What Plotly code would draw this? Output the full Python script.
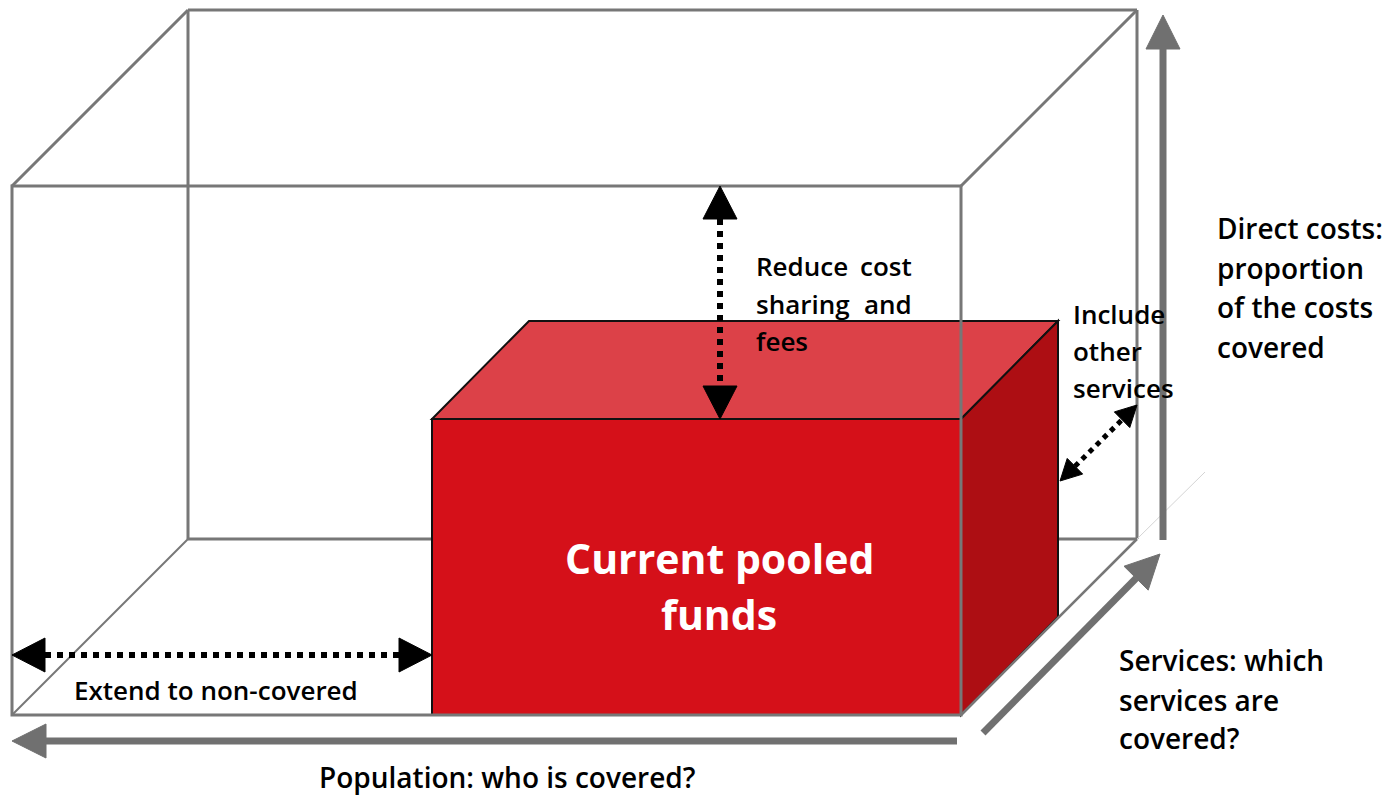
import plotly.graph_objects as go

# ---------------- text content ----------------
centre_label = ["Current pooled", "funds"]
reduce_label = [["Reduce", "cost"], ["sharing", "and"], ["fees"]]
include_label = ["Include", "other", "services"]
direct_label = ["Direct costs:", "proportion", "of the costs", "covered"]
services_label = ["Services: which", "services are", "covered?"]
extend_label = ["Extend to non-covered"]
population_label = ["Population: who is covered?"]

# ---------------- geometry (pixel space) ----------------
W, H = 1399, 797
outer_front = dict(x0=12, y0=186, x1=961, y1=715)
outer_depth = (176, -176)
inner_front = dict(x0=432, y0=419, x1=961, y1=715)
inner_depth = (97, -98)

GRAY = "#777777"
ARROW_GRAY = "#707070"
RED_FRONT = "#D51019"
RED_TOP = "#DC4148"
RED_SIDE = "#AD0E13"
FONT = "Open Sans"

shapes = []
annotations = []


def line(x0, y0, x1, y1, color=GRAY, width=3, dash="solid"):
    shapes.append(dict(type="line", x0=x0, y0=y0, x1=x1, y1=y1,
                       line=dict(color=color, width=width, dash=dash),
                       layer="above"))


def poly(pts, fill, outline=None, width=0):
    path = "M " + " L ".join(f"{x},{y}" for x, y in pts) + " Z"
    shapes.append(dict(type="path", path=path, fillcolor=fill,
                       line=dict(color=outline or fill, width=width),
                       layer="above"))


def head(tip, tail, length, half, color):
    tx, ty = tip
    dx, dy = tip[0] - tail[0], tip[1] - tail[1]
    n = (dx * dx + dy * dy) ** 0.5
    ux, uy = dx / n, dy / n
    bx, by = tx - ux * length, ty - uy * length
    px, py = -uy, ux
    poly([(tx, ty), (bx + px * half, by + py * half), (bx - px * half, by - py * half)],
         color, color, 1)
    return bx, by


def text(x, y, s, size, anchor="left", color="#000000", weight=600):
    annotations.append(dict(x=x, y=y, text=s, showarrow=False, xanchor=anchor,
                            yanchor="middle",
                            font=dict(family=FONT, size=size, color=color, weight=weight)))


# ---- outer box: back face and depth edges ----
ox0, oy0, ox1, oy1 = outer_front["x0"], outer_front["y0"], outer_front["x1"], outer_front["y1"]
odx, ody = outer_depth
bx0, by0, bx1, by1 = ox0 + odx, oy0 + ody, ox1 + odx, oy1 + ody
line(bx0, by0, bx1, by0)
line(bx0, by0, bx0, by1)
line(bx1, by0, bx1, by1)
line(bx0, by1, bx1, by1)
line(ox0, oy0, bx0, by0)
line(ox1, oy0, bx1, by0)
line(ox0, oy1, bx0, by1, width=2)
line(bx1, by1, bx1 + 68, by1 - 67, color="#d4d4d4", width=1)

# ---- inner red box ----
ix0, iy0, ix1, iy1 = inner_front["x0"], inner_front["y0"], inner_front["x1"], inner_front["y1"]
idx, idy = inner_depth
poly([(ix0, iy0), (ix1, iy0), (ix1 + idx, iy0 + idy), (ix0 + idx, iy0 + idy)], RED_TOP, "#111111", 2)
poly([(ix1, iy0), (ix1 + idx, iy0 + idy), (ix1 + idx, iy1 + idy), (ix1, iy1)], RED_SIDE, "#111111", 2)
poly([(ix0, iy0), (ix1, iy0), (ix1, iy1), (ix0, iy1)], RED_FRONT, "#111111", 2)

# ---- outer box front face (drawn over the red box) ----
line(ox1, oy1, bx1, by1, width=2.5)
shapes.append(dict(type="rect", x0=ox0, y0=oy0, x1=ox1, y1=oy1,
                   line=dict(color=GRAY, width=3), fillcolor="rgba(0,0,0,0)", layer="above"))

# ---- dotted double arrows ----
def dotted_double(p0, p1, length, half, width):
    a = head(p0, p1, length, half, "#000000")
    b = head(p1, p0, length, half, "#000000")
    line(a[0], a[1], b[0], b[1], color="#000000", width=width, dash="dot")


dotted_double((720, oy0), (720, iy0), 33, 17, 6)
dotted_double((ox0, 655), (ix0, 655), 33, 17, 6)
dotted_double((1060, 481), (1137, 405), 21, 11, 5)

# ---- gray axis arrows ----
def gray_arrow(tail, tip, length=34, half=17, width=7):
    b = head(tip, tail, length, half, ARROW_GRAY)
    line(tail[0], tail[1], b[0], b[1], color=ARROW_GRAY, width=width)


gray_arrow((1163, 540), (1163, 15))
gray_arrow((957, 741), (12, 741))
gray_arrow((983, 733), (1160, 554))

# ---- labels ----
text(719, 558, centre_label[0], 41, "center", "#ffffff", 700)
text(719, 614, centre_label[1], 41, "center", "#ffffff", 700)

ry = [266, 304, 341]
for words, y in zip(reduce_label, ry):
    text(754, y, words[0], 26)
    if len(words) > 1:
        text(914, y, words[-1], 26, "right")

for s, y in zip(include_label, [314, 351, 388]):
    text(1071, y, s, 26)
for s, y in zip(direct_label, [228, 268, 307, 347]):
    text(1215, y, s, 28)
for s, y in zip(services_label, [660, 700, 738]):
    text(1117, y, s, 28)
text(72, 690, extend_label[0], 26)
text(317, 777, population_label[0], 28)

fig = go.Figure()
fig.update_layout(
    width=W, height=H,
    margin=dict(l=0, r=0, t=0, b=0),
    paper_bgcolor="#ffffff", plot_bgcolor="#ffffff",
    xaxis=dict(range=[0, W], visible=False, fixedrange=True),
    yaxis=dict(range=[H, 0], visible=False, fixedrange=True),
    shapes=shapes, annotations=annotations, showlegend=False,
)
fig.write_html(
    "out.html",
    config={"displayModeBar": False},
    post_script="document.body.style.margin='0';document.body.style.overflow='hidden';",
)
